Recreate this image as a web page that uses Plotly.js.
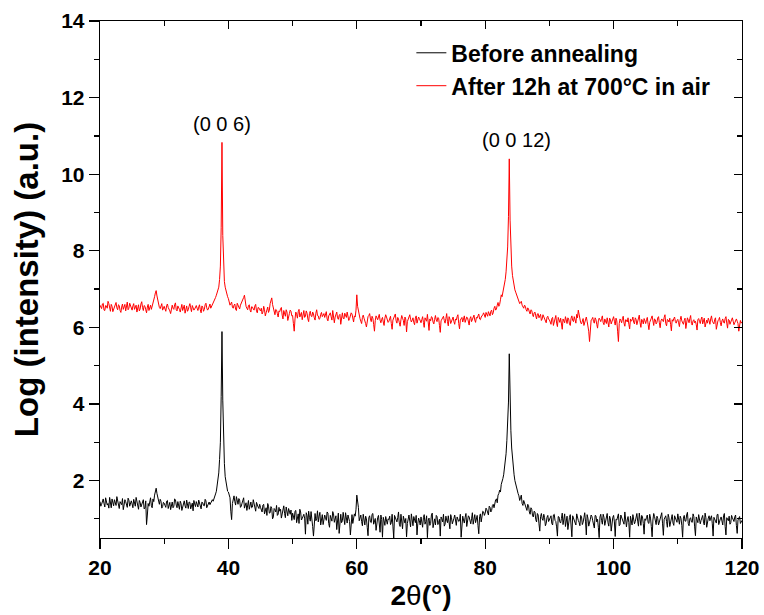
<!DOCTYPE html>
<html>
<head>
<meta charset="utf-8">
<script src="https://cdn.plot.ly/plotly-3.0.1.min.js"></script>
<style>html,body{margin:0;padding:0;background:#fff;}#chart{width:764px;height:615px;}</style>
</head>
<body>
<div id="chart"></div>
<script>
// 2-theta scan grid (degrees): start and step of the recorded scan
const scanStart = 20;
const scanStep = 0.125;

// Log intensity, before annealing, at 20.00, 20.25, ... 120.00
const yBefore = [
1.45,1.38,1.52,1.31,1.47,1.40,1.56,1.29,1.44,1.50,1.35,1.48,1.27,1.42,1.53,1.36,1.45,1.30,1.49,1.41,
1.39,1.51,1.33,1.46,1.25,1.43,1.37,1.50,1.28,0.85,1.40,1.47,1.34,1.52,1.62,1.80,1.55,1.38,1.46,1.32,
1.41,1.30,1.48,1.36,1.24,1.44,1.33,1.50,1.29,1.38,1.46,1.22,1.40,1.34,1.49,1.27,1.43,1.35,1.21,1.39,
1.45,1.31,1.38,1.26,1.42,1.34,1.47,1.36,1.44,1.42,1.50,1.55,1.65,1.85,2.20,3.00,5.89,2.90,2.10,1.80,
1.70,1.55,0.98,1.52,1.45,1.58,1.38,1.49,1.33,1.46,1.28,1.42,1.36,1.25,1.44,1.31,1.39,1.20,1.35,1.27,
1.30,1.18,1.38,1.22,1.09,1.33,1.16,1.28,1.05,1.24,1.35,1.12,1.20,1.02,1.26,1.14,1.31,1.08,1.19,1.23,
1.15,0.98,1.22,1.06,0.88,1.18,1.01,1.12,0.60,1.09,1.20,0.94,1.05,0.55,1.14,1.00,0.92,1.17,1.03,0.85,
1.10,0.96,1.15,0.78,1.04,1.19,0.91,1.08,0.99,0.62,1.12,0.95,1.06,1.16,0.89,1.02,0.58,1.11,0.97,1.07,
1.62,1.30,1.05,0.93,1.12,0.84,1.00,0.56,1.08,0.90,1.14,0.97,0.70,1.03,0.88,1.10,0.52,0.95,1.06,0.86,
0.98,0.85,1.12,0.50,1.01,0.92,1.18,0.80,0.96,1.07,0.89,0.53,1.04,0.94,1.13,0.82,0.99,1.09,0.87,0.95,
1.05,0.78,1.11,0.93,0.51,1.02,0.88,1.15,0.96,0.84,1.06,0.91,0.55,1.00,1.12,0.86,0.97,1.08,0.74,1.03,
0.92,1.10,0.83,1.01,0.95,0.52,1.07,0.89,1.14,0.98,1.05,0.87,1.16,1.02,0.90,1.09,0.61,1.13,1.04,1.18,
1.15,1.24,1.10,1.30,1.22,1.38,1.45,1.52,1.62,1.75,1.90,2.05,2.30,2.70,3.50,5.31,3.30,2.55,2.15,1.90,
1.78,1.60,1.55,1.40,1.48,1.30,1.22,1.35,1.12,1.25,1.05,1.18,0.92,1.10,0.68,1.14,0.96,1.03,0.88,1.09,
0.97,1.08,0.84,1.12,0.93,0.55,1.05,0.89,1.15,0.99,0.80,1.07,0.94,1.11,0.53,1.01,0.87,1.13,0.96,0.82,
1.06,0.91,1.16,0.58,1.02,0.88,1.10,0.95,0.76,1.08,0.99,0.51,1.12,0.86,1.04,0.93,1.14,0.81,1.00,0.90,
1.09,0.54,0.97,1.13,0.85,1.03,0.92,1.18,0.79,1.06,0.52,0.98,1.11,0.87,1.01,0.94,1.15,0.83,1.05,0.60,
0.96,1.10,0.88,1.02,0.53,1.14,0.91,1.07,0.84,0.99,1.16,0.57,1.04,0.93,1.12,0.80,1.00,0.89,1.08,0.95,
1.13,0.86,1.01,0.52,1.09,0.94,1.17,0.82,1.03,0.91,1.06,0.56,0.98,1.11,0.87,1.04,0.92,1.15,0.78,1.02,
0.95,1.08,0.55,1.00,0.89,1.12,0.97,1.05,0.84,1.14,0.58,0.99,1.07,0.90,1.03,0.93,1.10,0.62,1.01,0.88,
0.96
];
// Log intensity, before annealing, at 20.125, 20.375, ... 119.875
const yBeforeMid = [
1.33,1.49,1.40,1.55,1.36,1.28,1.46,1.52,1.34,1.41,1.58,1.30,1.45,1.37,1.24,1.50,1.39,1.54,1.33,1.47,
1.29,1.44,1.56,1.35,1.48,1.31,1.42,1.26,1.47,1.10,1.33,1.55,1.29,1.45,1.70,1.66,1.40,1.51,1.28,1.43,
1.35,1.46,1.27,1.43,1.38,1.29,1.52,1.36,1.45,1.25,1.40,1.33,1.47,1.28,1.37,1.44,1.26,1.41,1.48,1.32,
1.38,1.49,1.30,1.44,1.35,1.51,1.29,1.42,1.37,1.48,1.46,1.60,1.72,2.00,2.55,4.20,4.10,2.45,1.95,1.72,
1.62,1.20,1.40,1.60,1.36,1.47,1.53,1.30,1.41,1.55,1.34,1.22,1.48,1.39,1.29,1.50,1.26,1.43,1.31,1.38,
1.21,1.36,1.13,1.29,1.40,1.15,1.32,1.00,1.27,1.18,1.09,1.30,1.25,1.14,1.34,1.03,1.21,1.27,1.12,0.96,
1.07,1.20,0.90,1.13,1.25,0.97,1.10,1.02,1.16,0.86,1.04,1.19,0.80,1.08,0.95,1.21,1.07,0.84,1.11,0.99,
1.03,1.18,0.88,1.09,0.94,1.13,1.00,0.72,1.15,1.05,0.90,1.17,0.85,1.01,1.10,0.93,1.06,0.88,1.13,1.25,
1.45,0.95,1.10,0.82,0.99,1.07,0.78,1.03,0.92,1.12,0.86,1.01,0.94,1.09,0.65,0.98,1.04,0.83,0.91,1.00,
1.07,0.90,0.81,1.09,0.95,1.03,0.86,1.12,0.74,0.93,1.01,0.88,1.10,0.79,0.97,1.06,0.90,0.58,1.02,0.84,
0.91,1.03,0.86,1.08,0.97,0.83,1.10,0.77,1.00,1.09,0.85,0.99,1.05,0.92,0.81,1.07,0.90,0.96,1.11,0.87,
1.01,0.88,1.05,0.93,1.12,0.85,0.97,1.04,0.80,1.08,0.94,1.00,0.86,1.11,0.99,0.83,1.06,0.92,1.20,1.09,
1.28,1.17,1.33,1.18,1.35,1.29,1.50,1.42,1.66,1.70,1.96,2.15,2.50,3.05,4.05,4.00,2.85,2.30,2.00,1.82,
1.66,1.48,1.62,1.35,1.42,1.25,1.38,1.18,1.29,1.08,1.20,0.98,1.14,0.87,1.06,1.00,1.12,0.82,1.04,0.93,
1.02,0.88,1.10,0.96,0.79,1.06,0.92,1.01,0.85,1.13,0.95,0.72,1.04,0.90,1.08,0.97,0.84,1.02,0.91,1.09,
0.85,1.03,0.94,1.11,0.81,0.99,1.06,0.87,1.09,0.92,0.78,1.05,0.96,1.12,0.83,1.01,0.90,1.07,0.68,1.04,
0.92,0.99,1.08,0.82,1.10,0.95,0.86,1.03,0.97,0.90,1.07,0.84,1.02,0.93,1.14,0.81,0.99,1.09,0.88,1.00,
1.04,0.90,1.12,0.80,0.97,1.06,0.85,1.01,0.93,1.10,0.87,0.99,1.08,0.78,1.03,0.94,1.11,0.83,1.00,0.91,
0.98,1.07,0.83,1.02,0.94,1.10,0.88,1.00,0.92,1.13,0.79,1.05,0.90,1.01,0.96,1.09,0.84,1.03,0.93,1.08,
1.02,0.87,1.04,0.93,1.11,0.85,1.00,0.91,1.08,0.80,1.03,0.95,0.86,1.09,0.98,1.05,0.83,0.97,1.06,0.92
];

// Log intensity, after 12h at 700°C in air, at 20.00, 20.25, ... 120.00
const yAfter = [
6.58,6.49,6.63,6.44,6.56,6.68,6.47,6.60,6.41,6.54,6.65,6.46,6.57,6.39,6.61,6.52,6.43,6.66,6.50,6.58,
6.45,6.62,6.53,6.40,6.59,6.48,6.67,6.44,6.55,6.38,6.60,6.51,6.47,6.63,6.80,6.96,6.70,6.52,6.58,6.45,
6.55,6.42,6.61,6.49,6.36,6.58,6.47,6.64,6.43,6.53,6.40,6.60,6.50,6.37,6.56,6.46,6.62,6.41,6.52,6.48,
6.57,6.44,6.59,6.38,6.53,6.47,6.63,6.45,6.55,6.50,6.58,6.66,6.78,6.90,7.05,7.60,10.83,7.50,7.05,6.85,
6.75,6.58,6.66,6.50,6.61,6.44,6.57,6.48,6.62,6.70,6.84,6.55,6.46,6.59,6.40,6.53,6.45,6.60,6.38,6.51,
6.43,6.35,6.55,6.30,6.48,6.39,6.62,6.77,6.50,6.33,6.45,6.27,6.41,6.52,6.22,6.38,6.46,6.18,6.36,6.42,
6.31,5.90,6.40,6.24,6.47,6.33,6.20,6.44,6.29,6.37,6.15,6.42,6.28,6.35,6.19,6.46,6.30,6.23,6.39,6.32,
6.26,6.41,6.17,6.34,6.28,6.44,6.12,6.36,6.25,6.31,6.08,6.38,6.22,6.33,6.40,6.18,6.29,6.35,6.14,6.27,
6.85,6.40,6.23,6.10,6.32,6.19,6.01,6.28,6.36,6.15,6.24,5.90,6.30,6.20,6.34,6.12,6.26,6.05,6.33,6.21,
6.16,6.29,5.95,6.24,6.35,6.11,6.22,6.03,6.31,6.18,6.27,5.88,6.20,6.33,6.14,6.25,6.07,6.30,6.19,6.23,
6.12,6.28,6.00,6.21,6.34,5.92,6.17,6.26,6.09,6.31,6.15,6.24,5.87,6.20,6.29,6.11,6.36,6.04,6.22,6.16,
6.27,6.08,6.19,6.33,5.96,6.23,6.14,6.30,6.18,6.25,6.06,6.28,6.21,6.32,6.13,6.24,6.35,6.20,6.29,6.38,
6.26,6.34,6.41,6.30,6.45,6.38,6.55,6.48,6.65,6.60,6.85,6.90,7.10,7.45,8.10,10.40,8.00,7.35,7.05,6.92,
6.80,6.70,6.65,6.58,6.50,6.55,6.42,6.48,6.35,6.44,6.28,6.40,6.22,6.36,6.31,6.18,6.33,6.25,6.12,6.29,
6.20,6.08,6.26,6.14,6.31,6.02,6.19,6.24,5.95,6.17,6.28,6.10,6.22,6.05,6.30,6.15,6.21,6.34,6.45,6.18,
6.09,6.23,6.13,6.27,6.04,5.63,6.19,6.26,6.11,6.20,5.98,6.24,6.15,6.30,6.07,6.18,6.25,6.01,6.21,6.14,
6.28,6.06,6.17,5.63,6.22,6.12,6.29,6.03,6.19,6.25,5.96,6.16,6.27,6.09,6.21,6.14,6.32,6.00,6.18,6.23,
6.10,6.26,5.94,6.17,6.30,6.05,6.20,6.13,6.28,5.99,6.22,6.15,6.33,6.04,6.19,6.24,5.91,6.16,6.27,6.11,
6.21,6.02,6.29,6.14,6.18,5.97,6.25,6.12,6.31,6.06,6.20,6.16,5.93,6.23,6.10,6.27,6.15,6.01,6.19,6.24,
6.08,6.30,6.13,6.21,5.95,6.17,6.26,6.04,6.22,6.11,6.28,5.98,6.19,6.14,6.25,6.07,6.20,6.16,5.90,6.18,
6.14
];
// Log intensity, after annealing, at 20.125, 20.375, ... 119.875
const yAfterMid = [
6.52,6.61,6.45,6.57,6.50,6.62,6.42,6.55,6.48,6.64,6.51,6.59,6.44,6.53,6.47,6.60,6.56,6.46,6.63,6.51,
6.56,6.47,6.58,6.50,6.43,6.61,6.52,6.57,6.46,6.53,6.44,6.58,6.54,6.68,6.90,6.82,6.57,6.49,6.62,6.51,
6.48,6.57,6.52,6.43,6.54,6.50,6.59,6.46,6.56,6.47,6.53,6.44,6.58,6.49,6.42,6.55,6.51,6.57,6.45,6.54,
6.50,6.53,6.46,6.56,6.42,6.59,6.51,6.48,6.61,6.54,6.62,6.70,6.84,6.97,7.25,8.60,8.40,7.20,6.95,6.80,
6.68,6.62,6.53,6.58,6.47,6.63,6.52,6.58,6.66,6.78,6.63,6.50,6.57,6.45,6.54,6.48,6.56,6.43,6.52,6.46,
6.50,6.40,6.46,6.38,6.53,6.45,6.70,6.60,6.41,6.47,6.36,6.43,6.49,6.32,6.44,6.29,6.40,6.34,6.45,6.30,
6.10,6.22,6.34,6.41,6.27,6.39,6.33,6.26,6.43,6.22,6.36,6.30,6.40,6.25,6.37,6.31,6.21,6.34,6.28,6.36,
6.35,6.22,6.30,6.38,6.19,6.32,6.27,6.40,6.21,6.34,6.29,6.24,6.37,6.26,6.31,6.23,6.38,6.20,6.30,6.45,
6.55,6.30,6.16,6.26,6.24,6.10,6.20,6.31,6.22,6.29,6.08,6.18,6.25,6.27,6.19,6.21,6.14,6.24,6.27,6.13,
6.23,6.10,6.19,6.30,6.17,6.26,6.12,6.20,6.24,6.05,6.22,6.15,6.28,6.21,6.19,6.13,6.24,6.11,6.27,6.16,
6.20,6.13,6.25,6.16,6.08,6.22,6.28,6.14,6.21,6.19,6.26,6.05,6.17,6.25,6.18,6.23,6.15,6.28,6.10,6.24,
6.15,6.22,6.28,6.10,6.19,6.26,6.21,6.13,6.27,6.17,6.23,6.15,6.29,6.19,6.26,6.30,6.22,6.27,6.33,6.31,
6.39,6.29,6.36,6.42,6.33,6.50,6.45,6.58,6.55,6.72,6.80,6.98,7.25,7.70,8.90,8.80,7.60,7.20,6.98,6.85,
6.74,6.62,6.68,6.52,6.58,6.46,6.51,6.40,6.46,6.33,6.38,6.30,6.35,6.25,6.34,6.22,6.28,6.19,6.26,6.21,
6.14,6.23,6.05,6.20,6.11,6.26,6.13,6.08,6.22,6.12,6.19,6.25,6.09,6.24,6.18,6.28,6.11,6.25,6.30,6.12,
6.18,6.05,6.22,6.16,5.90,6.12,6.21,6.15,6.25,6.08,6.17,6.20,6.23,6.12,6.22,6.10,6.16,6.24,6.09,6.20,
6.16,6.24,5.90,6.10,6.18,6.23,6.11,6.20,6.14,6.08,6.22,6.19,6.13,6.25,6.07,6.26,6.12,6.21,6.09,6.17,
6.20,6.08,6.13,6.24,6.16,6.22,6.09,6.25,6.12,6.17,6.19,6.26,6.10,6.21,6.14,6.08,6.20,6.23,6.15,6.18,
6.12,6.20,6.17,6.08,6.24,6.15,6.19,6.23,6.10,6.17,6.12,6.07,6.20,6.16,6.21,6.09,6.24,6.13,6.11,6.18,
6.22,6.16,6.09,6.25,6.12,6.20,6.13,6.17,6.14,6.23,6.11,6.21,6.08,6.24,6.16,6.12,6.22,6.10,6.15,6.11
];

const seriesNames = ['Before annealing', 'After 12h at 700°C in air'];
const seriesColors = ['#000000', '#ff0000'];

// Peak labels
const peakLabels = ['(0 0 6)', '(0 0 12)'];
const peakLabelX = [39.0, 84.8];
const peakLabelY = [11.32, 10.9];

const xTicks = [20, 40, 60, 80, 100, 120];
const yTicks = [2, 4, 6, 8, 10, 12, 14];

// merge the readings taken on the grid and between grid points, in scan order
function mergeScan(onGrid, between) {
  const xs = [], ys = [];
  for (let i = 0; i < onGrid.length; i++) {
    xs.push(scanStart + 2 * i * scanStep); ys.push(onGrid[i]);
    if (i < between.length) { xs.push(scanStart + (2 * i + 1) * scanStep); ys.push(between[i]); }
  }
  return {xs, ys};
}
const before = mergeScan(yBefore, yBeforeMid);
const after = mergeScan(yAfter, yAfterMid);

const FONT = 'Liberation Sans, Arial, sans-serif';

const traces = [
  {x: before.xs, y: before.ys, type: 'scatter', mode: 'lines', name: seriesNames[0],
   line: {color: seriesColors[0], width: 1}},
  {x: after.xs, y: after.ys, type: 'scatter', mode: 'lines', name: seriesNames[1],
   line: {color: seriesColors[1], width: 1}},
  // empty traces to carry the mirrored top/right frame axes
  {x: [], y: [], xaxis: 'x2', yaxis: 'y', showlegend: false, hoverinfo: 'skip'},
  {x: [], y: [], xaxis: 'x', yaxis: 'y2', showlegend: false, hoverinfo: 'skip'}
];

const common = {showgrid: false, zeroline: false, showline: true, linecolor: '#000', linewidth: 1.3,
  tickcolor: '#000', tickwidth: 1.3};

const layout = {
  width: 764, height: 615,
  margin: {l: 100, r: 22, t: 21, b: 77},
  paper_bgcolor: '#fff', plot_bgcolor: '#fff',
  showlegend: true,
  legend: {x: 0.485, y: 0.98, xanchor: 'left', yanchor: 'top', bgcolor: 'rgba(0,0,0,0)',
    font: {family: FONT, size: 23, color: '#000', weight: 'bold'}, tracegroupgap: 0},
  xaxis: Object.assign({}, common, {
    range: [20, 120], tickmode: 'array', tickvals: xTicks, ticks: 'outside', ticklen: 10,
    minor: {dtick: 10, tick0: 20, ticks: 'outside', ticklen: 5, tickcolor: '#000', tickwidth: 1.3},
    tickfont: {family: FONT, size: 21, color: '#000', weight: 'bold'},
    title: {text: '<b>2</b>θ<b>(°)</b>\u00a0', font: {family: FONT, size: 28, color: '#000'}, standoff: 8}
  }),
  yaxis: Object.assign({}, common, {
    range: [0.5, 14], tickmode: 'array', tickvals: yTicks, ticks: 'outside', ticklen: 10,
    minor: {dtick: 1, tick0: 0, ticks: 'outside', ticklen: 5, tickcolor: '#000', tickwidth: 1.3},
    tickfont: {family: FONT, size: 21, color: '#000', weight: 'bold'},
    title: {text: 'Log (intensity) (a.u.)\u00a0\u00a0', font: {family: FONT, size: 33, color: '#000', weight: 'bold'}, standoff: 12}
  }),
  xaxis2: Object.assign({}, common, {
    overlaying: 'x', side: 'top', anchor: 'y', range: [20, 120], tickmode: 'array', tickvals: xTicks,
    ticks: 'inside', ticklen: 8, showticklabels: false,
    minor: {dtick: 10, tick0: 20, ticks: 'inside', ticklen: 5, tickcolor: '#000', tickwidth: 1.3}
  }),
  yaxis2: Object.assign({}, common, {
    overlaying: 'y', side: 'right', anchor: 'x', range: [0.5, 14], tickmode: 'array', tickvals: yTicks,
    ticks: 'inside', ticklen: 8, showticklabels: false,
    minor: {dtick: 1, tick0: 0, ticks: 'inside', ticklen: 5, tickcolor: '#000', tickwidth: 1.3}
  }),
  annotations: peakLabels.map((t, i) => ({
    text: t, x: peakLabelX[i], y: peakLabelY[i], xref: 'x', yref: 'y', showarrow: false,
    font: {family: FONT, size: 20, color: '#000'}
  }))
};

Plotly.newPlot('chart', traces, layout, {displayModeBar: false, staticPlot: true});
</script>
</body>
</html>
